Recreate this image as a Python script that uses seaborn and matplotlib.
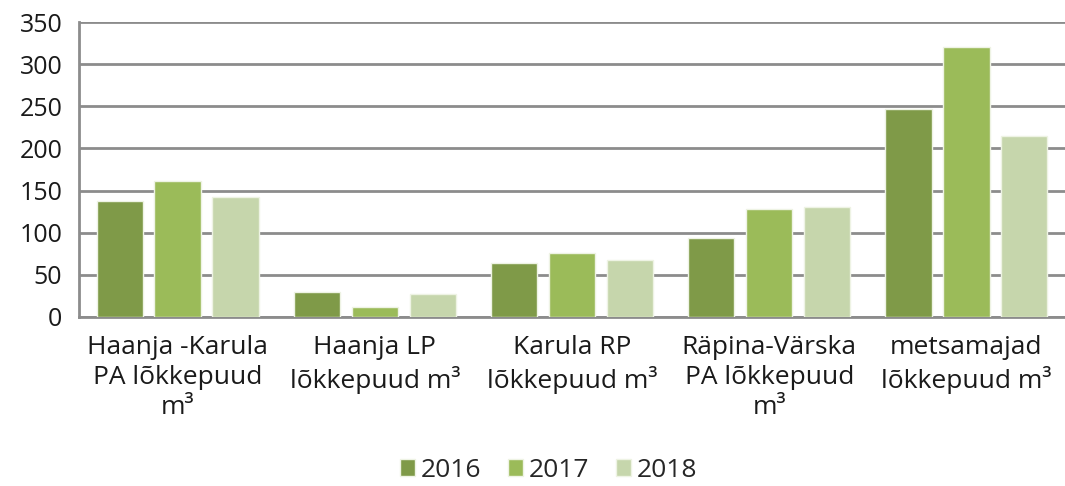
import numpy as np
import pandas as pd
import matplotlib
matplotlib.use("Agg")
import matplotlib.pyplot as plt
import seaborn as sns

categories = ["Haanja -Karula\nPA lõkkepuud\nm³",
              "Haanja LP\nlõkkepuud m³",
              "Karula RP\nlõkkepuud m³",
              "Räpina-Värska\nPA lõkkepuud\nm³",
              "metsamajad\nlõkkepuud m³"]
years = ["2016", "2017", "2018"]
v2016 = [138, 30, 64, 94, 247]
v2017 = [161, 12, 76, 128, 320]
v2018 = [142, 27, 68, 130, 215]
palette = ["#7F9A48", "#9BBB59", "#C6D6AC"]

df = pd.DataFrame({
    "cat": categories * 3,
    "year": np.repeat(years, len(categories)),
    "value": v2016 + v2017 + v2018,
})

sns.set_style("white")
plt.rcParams["font.family"] = ["Open Sans", "DejaVu Sans"]

fig = plt.figure(figsize=(10.65, 4.86), dpi=100)
ax = fig.add_axes([79 / 1065, 1 - 317 / 486, 1 - 79 / 1065, 295 / 486])

sns.barplot(data=df, x="cat", y="value", hue="year", palette=palette,
            width=0.88, gap=0.2, ax=ax, edgecolor="#eef3e4", linewidth=1,
            saturation=1, zorder=3)

ax.set_ylim(0, 350)
ax.set_xlim(-0.5, 4.5)
ax.set_yticks(range(0, 351, 50))
ax.yaxis.grid(True, color="#8c8c8c", linewidth=2, zorder=0)
ax.set_axisbelow(True)
for s in ["top", "right"]:
    ax.spines[s].set_visible(False)
ax.spines["left"].set_color("#8c8c8c")
ax.spines["left"].set_linewidth(2)
ax.spines["bottom"].set_color("#8c8c8c")
ax.spines["bottom"].set_linewidth(2)
ax.set_xlabel("")
ax.set_ylabel("")
ax.tick_params(axis="y", labelsize=18, length=0, pad=12, colors="#1a1a1a")
ax.tick_params(axis="x", labelsize=19, length=0, pad=13, colors="#1a1a1a")
for lab in ax.get_xticklabels():
    lab.set_linespacing(1.25)

leg = ax.legend(loc="center", bbox_to_anchor=(0.476, -0.519), ncol=3,
                frameon=False, fontsize=19, handlelength=0.6, handleheight=0.6,
                handletextpad=0.2, columnspacing=1.0)

fig.savefig("out.png", dpi=100, facecolor="white")
